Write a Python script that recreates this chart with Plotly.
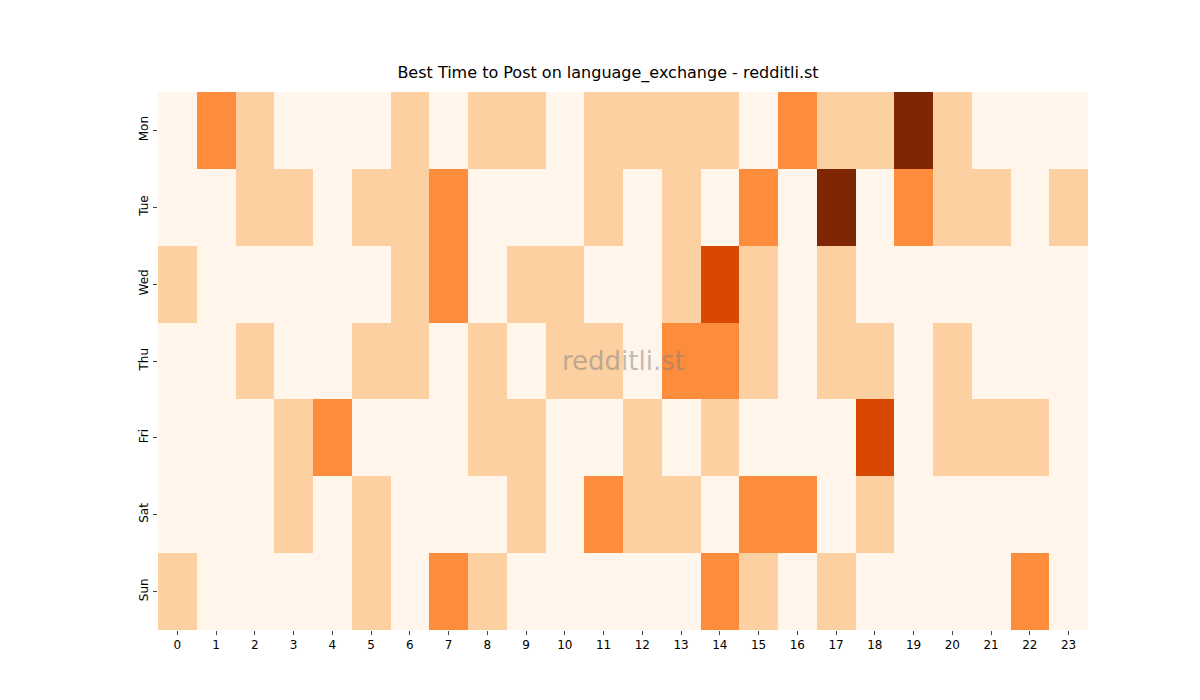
import plotly.graph_objects as go

days = ["Mon", "Tue", "Wed", "Thu", "Fri", "Sat", "Sun"]
hours = list(range(24))
mon = [0,2,1,0,0,0,1,0,1,1,0,1,1,1,1,0,2,1,1,4,1,0,0,0]
tue = [0,0,1,1,0,1,1,2,0,0,0,1,0,1,0,2,0,4,0,2,1,1,0,1]
wed = [1,0,0,0,0,0,1,2,0,1,1,0,0,1,3,1,0,1,0,0,0,0,0,0]
thu = [0,0,1,0,0,1,1,0,1,0,1,1,0,2,2,1,0,1,1,0,1,0,0,0]
fri = [0,0,0,1,2,0,0,0,1,1,0,0,1,0,1,0,0,0,3,0,1,1,1,0]
sat = [0,0,0,1,0,1,0,0,0,1,0,2,1,1,0,2,2,0,1,0,0,0,0,0]
sun = [1,0,0,0,0,1,0,2,1,0,0,0,0,0,2,1,0,1,0,0,0,0,2,0]
z = [mon, tue, wed, thu, fri, sat, sun]

cols = ["#fff5eb", "#fdd0a2", "#fd8d3c", "#d94801", "#7f2704"]
cs = []
for i, c in enumerate(cols):
    cs.append([i / 5, c]); cs.append([(i + 1) / 5, c])

fig = go.Figure(go.Heatmap(z=z, x=hours, y=days, colorscale=cs, zmin=-0.5, zmax=4.5,
                           showscale=False, xgap=0, ygap=0))
fig.update_layout(
    width=1200, height=700, plot_bgcolor="white", paper_bgcolor="white",
    margin=dict(l=150, r=120, t=84, b=78),
    font=dict(family="DejaVu Sans", size=12, color="black"),
    title=dict(text="Best Time to Post on language_exchange - redditli.st", x=0.5, y=0.9,
               xanchor="center", yanchor="bottom", font=dict(size=16)),
    xaxis=dict(tickmode="array", tickvals=hours, ticks="outside", ticklen=4, showgrid=False, zeroline=False),
    yaxis=dict(autorange="reversed", tickangle=-90, ticks="outside", ticklen=4, showgrid=False, zeroline=False),
    annotations=[dict(text="redditli.st", x=0.5, y=0.5, xref="paper", yref="paper",
                      showarrow=False, font=dict(size=26, color="rgba(128,128,128,0.5)"))],
)
fig.write_html("out.html")
